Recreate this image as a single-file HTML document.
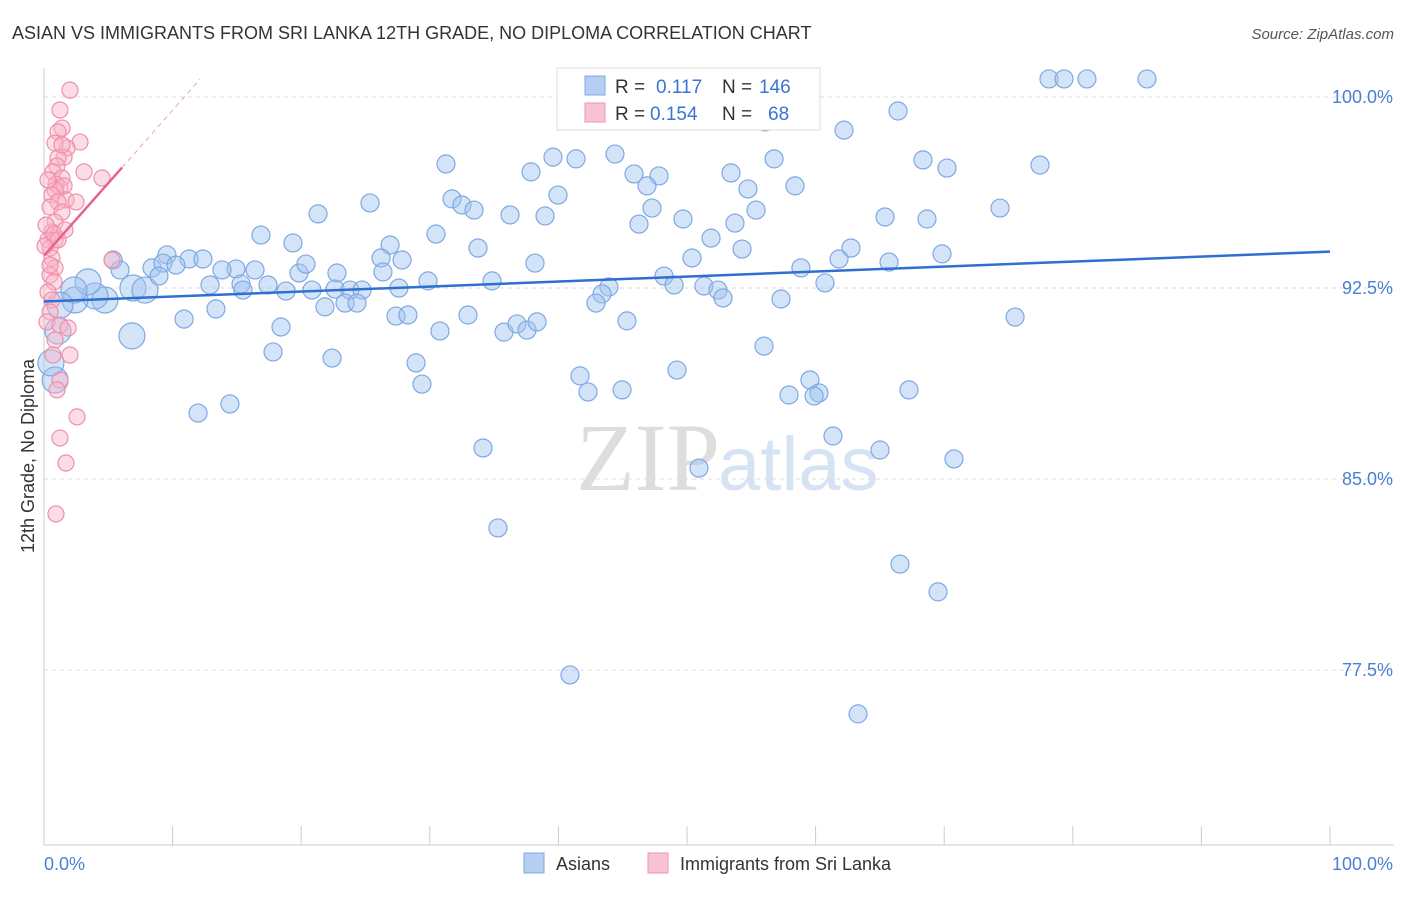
<!DOCTYPE html>
<html><head><meta charset="utf-8"><style>
body{margin:0;background:#fff;font-family:"Liberation Sans",sans-serif;}
</style></head><body>
<svg width="1406" height="892" xmlns="http://www.w3.org/2000/svg" style="font-family:'Liberation Sans',sans-serif">
<text x="12" y="39" font-size="18" fill="#333">ASIAN VS IMMIGRANTS FROM SRI LANKA 12TH GRADE, NO DIPLOMA CORRELATION CHART</text>
<text x="1394" y="39" font-size="15" fill="#555" text-anchor="end" font-style="italic">Source: ZipAtlas.com</text>
<text x="720" y="490" font-size="96" fill="#ddd" text-anchor="end" font-family="Liberation Serif">ZIP</text>
<text x="718" y="490" font-size="76" fill="#d6e3f3">atlas</text>
<g id="grid"></g>
<g id="ylabels"></g>
<g id="xticks"></g>
<line x1="44" y1="68" x2="44" y2="845" stroke="#ccc"/>
<line x1="44" y1="845" x2="1394" y2="845" stroke="#ccc"/>
<text x="44" y="870" font-size="18" fill="#4a7fd4">0.0%</text>
<text x="1393" y="870" font-size="18" fill="#4a7fd4" text-anchor="end">100.0%</text>
<text transform="translate(34,456) rotate(-90)" font-size="18" fill="#333" text-anchor="middle">12th Grade, No Diploma</text>
<g id="pts"></g>
<g id="lines"></g>
<g>
<rect x="557" y="68" width="263" height="62" fill="#fff" stroke="#ddd"/>
<rect x="585" y="76" width="20" height="19" fill="#b5cff2" stroke="#7fa9e3"/>
<text x="615" y="93" font-size="19" fill="#333">R = </text><text x="656" y="93" font-size="19" fill="#3b73d4">0.117</text>
<text x="722" y="93" font-size="19" fill="#333">N = </text><text x="759" y="93" font-size="19" fill="#3b73d4">146</text>
<rect x="585" y="103" width="20" height="19" fill="#f8c4d3" stroke="#ef93ae"/>
<text x="615" y="120" font-size="19" fill="#333">R = </text><text x="650" y="120" font-size="19" fill="#3b73d4">0.154</text>
<text x="722" y="120" font-size="19" fill="#333">N = </text><text x="768" y="120" font-size="19" fill="#3b73d4">68</text>
</g>
<g>
<rect x="524" y="853" width="20" height="20" fill="#b5cff2" stroke="#7fa9e3"/>
<text x="556" y="870" font-size="18" fill="#333">Asians</text>
<rect x="648" y="853" width="20" height="20" fill="#f8c4d3" stroke="#ef93ae"/>
<text x="680" y="870" font-size="18" fill="#333">Immigrants from Sri Lanka</text>
</g>
</svg>
<script>
const yTicks=[100,92.5,85,77.5];
const yTickLabels=["100.0%","92.5%","85.0%","77.5%"];
const xTicks=[0,10,20,30,40,50,60,70,80,90,100];
const bluePx=[[1049,79],[1064,79],[1087,79],[1147,79],[898,111],[765,122],[844,130],[446,164],[553,157],[576,159],[615,154],[531,172],[634,174],[659,176],[647,186],[731,173],[774,159],[923,160],[947,168],[1040,165],[795,186],[748,189],[558,195],[370,203],[452,199],[462,205],[474,210],[510,215],[545,216],[318,214],[652,208],[683,219],[756,210],[735,223],[885,217],[927,219],[1000,208],[639,224],[261,235],[293,243],[436,234],[390,245],[478,248],[711,238],[742,249],[851,248],[942,254],[189,259],[167,255],[203,259],[113,260],[120,270],[152,268],[163,263],[176,265],[236,269],[255,270],[222,270],[299,273],[306,264],[337,273],[381,258],[402,260],[383,272],[535,263],[692,258],[801,268],[839,259],[889,262],[664,276],[210,285],[241,284],[268,285],[286,291],[243,290],[312,290],[335,289],[350,290],[362,290],[345,303],[357,303],[325,307],[399,288],[428,281],[492,281],[609,287],[602,294],[596,303],[674,285],[704,286],[718,290],[723,298],[781,299],[825,283],[105,300],[95,296],[75,300],[88,282],[74,290],[60,305],[133,288],[145,290],[159,276],[216,309],[184,319],[281,327],[396,316],[408,315],[468,315],[504,332],[517,324],[527,330],[537,322],[440,331],[627,321],[1015,317],[132,336],[58,331],[273,352],[332,358],[416,363],[580,376],[422,384],[588,392],[622,390],[677,370],[764,346],[810,380],[789,395],[819,393],[814,396],[909,390],[230,404],[198,413],[55,380],[51,363],[483,448],[699,468],[833,436],[880,450],[954,459],[498,528],[900,564],[938,592],[570,675],[858,714]];
const pinkPx=[[70,90],[60,110],[62,128],[58,132],[80,142],[67,148],[55,143],[64,157],[58,158],[84,172],[57,166],[53,172],[62,178],[56,184],[60,188],[64,186],[55,190],[102,178],[52,195],[66,200],[58,202],[76,202],[50,207],[62,212],[55,222],[52,232],[48,240],[55,240],[50,248],[45,246],[52,258],[55,268],[50,275],[54,282],[48,292],[52,300],[50,312],[47,322],[60,325],[68,328],[55,340],[53,355],[70,355],[60,380],[57,390],[77,417],[60,438],[66,463],[56,514],[112,260],[48,180],[46,225],[54,234],[50,265],[58,240],[65,230],[62,145]];
// convert read pixel positions into data values
const blueX=bluePx.map(p=>+((p[0]-44)/12.86).toFixed(2));
const blueY=bluePx.map(p=>+(100-(p[1]-97)/25.47).toFixed(2));
const pinkX=pinkPx.map(p=>+((p[0]-44)/12.86).toFixed(2));
const pinkY=pinkPx.map(p=>+(100-(p[1]-97)/25.47).toFixed(2));
const blueTrend=[[0,91.97],[100,93.93]];
const pinkTrend=[[0,93.77],[6.07,97.23]];
const pinkDash=[[6.07,97.23],[12.13,100.7]];
const sx=v=>44+v*12.86, sy=v=>97+(100-v)*25.47;
const NS='http://www.w3.org/2000/svg';
function mk(tag,attrs,parent){const e=document.createElementNS(NS,tag);for(const k in attrs)e.setAttribute(k,attrs[k]);document.getElementById(parent).appendChild(e);return e;}
yTicks.forEach((t,i)=>{
 const l=mk('line',{x1:44,x2:1394,y1:sy(t),y2:sy(t),stroke:'#ddd','stroke-dasharray':'4,4'},'grid');
 
 
 const tx=mk('text',{x:1393,y:sy(t)+6,'font-size':18,fill:'#4a7fd4','text-anchor':'end'},'ylabels');
 tx.textContent=yTickLabels[i];
 
 
});
xTicks.forEach(t=>{
 const l=mk('line',{x1:sx(t),x2:sx(t),y1:826,y2:845,stroke:'#ccc'},'xticks');
 
 
});
blueX.forEach((x,i)=>{
 const big=x<8&&blueY[i]>88&&blueY[i]<93;
 const c=mk('circle',{cx:sx(x),cy:sy(blueY[i]),r:big?13:9,fill:'rgba(160,195,240,0.45)',stroke:'#7ea8e3','stroke-width':1.2},'pts');
 
 
});
pinkX.forEach((x,i)=>{
 const c=mk('circle',{cx:sx(x),cy:sy(pinkY[i]),r:8,fill:'rgba(248,180,200,0.45)',stroke:'#ef8fab','stroke-width':1.2},'pts');
 
 
});
let l=mk('line',{x1:sx(blueTrend[0][0]),y1:sy(blueTrend[0][1]),x2:sx(blueTrend[1][0]),y2:sy(blueTrend[1][1]),stroke:'#2f6fd0','stroke-width':2.5},'lines');


l=mk('line',{x1:sx(pinkTrend[0][0]),y1:sy(pinkTrend[0][1]),x2:sx(pinkTrend[1][0]),y2:sy(pinkTrend[1][1]),stroke:'#e9628c','stroke-width':2.5},'lines');


l=mk('line',{x1:sx(pinkDash[0][0]),y1:sy(pinkDash[0][1]),x2:sx(pinkDash[1][0]),y2:sy(pinkDash[1][1]),stroke:'#f0a0b8','stroke-width':1,'stroke-dasharray':'5,4'},'lines');


</script>
</body></html>
